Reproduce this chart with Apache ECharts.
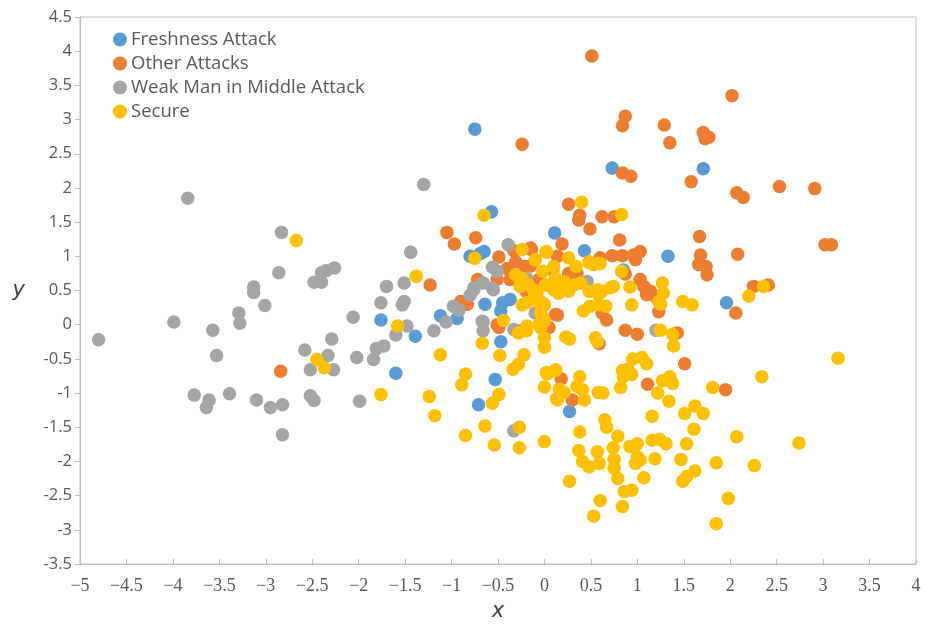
<!DOCTYPE html>
<html><head><meta charset="utf-8">
<script src="https://cdn.jsdelivr.net/npm/echarts@6/dist/echarts.min.js"></script>
<style>html,body{margin:0;padding:0;background:#fff}#c{width:933px;height:627px}</style>
</head><body><div id="c"></div>
<script>
const seriesNames = ['Freshness Attack','Other Attacks','Weak Man in Middle Attack','Secure'];
const seriesColors = ['#5B9BD5','#ED7D31','#A5A5A5','#FFC000'];

const freshness = [[-0.75,2.86],[0.73,2.29],[1.71,2.28],[-0.57,1.65],[0.11,1.34],[0.43,1.08],[1.33,1.00],[-0.80,1.00],[-0.69,1.04],[-0.65,1.07],[0.85,0.80],[-0.64,0.30],[-0.47,0.20],[-0.45,0.32],[-0.37,0.37],[-1.12,0.13],[-0.94,0.09],[-1.76,0.07],[-1.39,-0.17],[-0.47,-0.25],[-1.60,-0.71],[-0.53,-0.80],[-0.71,-1.17],[0.27,-1.27],[1.96,0.32]];

const otherAttacks = [[0.51,3.93],[-0.24,2.64],[0.87,3.05],[0.84,2.91],[1.29,2.92],[1.35,2.66],[2.02,3.35],[1.71,2.81],[1.73,2.72],[1.77,2.74],[0.84,2.22],[0.93,2.17],[1.58,2.09],[2.53,2.02],[2.91,1.99],[2.07,1.93],[2.14,1.86],[0.26,1.76],[0.38,1.60],[0.37,1.53],[0.62,1.58],[0.75,1.58],[0.49,1.40],[-1.05,1.35],[-0.97,1.18],[-0.74,1.27],[0.81,1.24],[1.67,1.29],[0.19,1.18],[-0.15,1.12],[-0.33,1.08],[-0.14,1.10],[-0.49,0.99],[-0.10,0.95],[0.14,1.00],[0.60,0.98],[0.73,1.01],[0.84,1.01],[0.96,1.02],[1.03,1.07],[0.98,0.95],[2.08,1.03],[3.02,1.17],[3.09,1.17],[1.68,1.02],[1.66,0.88],[1.74,0.85],[1.75,0.73],[2.25,0.56],[2.41,0.58],[2.06,0.17],[-1.23,0.58],[-0.40,0.82],[-0.22,0.85],[-0.31,0.92],[-0.15,0.86],[0.09,0.80],[-0.72,0.66],[-0.51,0.66],[-0.37,0.66],[-0.06,0.66],[-0.20,0.49],[-0.90,0.34],[-0.83,0.30],[-0.51,0.00],[-0.49,-0.04],[0.12,0.15],[0.05,-0.04],[0.35,0.75],[0.26,0.75],[0.87,0.74],[1.03,0.66],[1.07,0.56],[1.14,0.49],[1.10,0.44],[1.21,0.39],[1.23,0.19],[0.62,0.17],[0.67,0.07],[0.14,0.14],[0.87,-0.08],[1.00,-0.14],[1.43,-0.12],[0.59,-0.28],[1.51,-0.57],[0.18,-0.79],[0.30,-1.10],[1.11,-0.87],[1.95,-0.95],[-2.84,-0.68],[0.03,-0.02]];

const weakMitm = [[-4.80,-0.22],[-3.84,1.85],[-3.99,0.04],[-3.57,-0.08],[-3.53,-0.45],[-3.77,-1.03],[-3.61,-1.10],[-3.64,-1.21],[-3.39,-1.01],[-3.13,0.55],[-3.13,0.47],[-3.01,0.28],[-3.29,0.17],[-3.28,0.02],[-3.10,-1.10],[-2.95,-1.21],[-2.82,-1.17],[-2.82,-1.61],[-2.83,1.35],[-2.86,0.76],[-2.48,0.62],[-2.40,0.62],[-2.40,0.76],[-2.35,0.79],[-2.26,0.83],[-2.58,-0.37],[-2.52,-0.66],[-2.33,-0.45],[-2.29,-0.21],[-2.27,-0.66],[-2.52,-1.04],[-2.48,-1.11],[-2.06,0.11],[-2.02,-0.48],[-1.99,-1.12],[-1.30,2.05],[-1.44,1.06],[-1.70,0.56],[-1.51,0.61],[-1.51,0.34],[-1.53,0.29],[-1.76,0.32],[-1.48,-0.02],[-1.60,-0.15],[-1.73,-0.31],[-1.81,-0.35],[-1.84,-0.51],[-0.39,1.17],[-0.56,0.84],[-0.51,0.78],[-0.66,0.61],[-0.76,0.54],[-0.56,0.54],[-0.80,0.43],[-0.76,0.51],[-0.55,0.51],[-0.98,0.27],[-0.92,0.21],[-1.06,0.04],[-0.66,0.04],[-1.19,-0.09],[-0.66,-0.09],[-0.67,0.05],[-0.33,-0.07],[-0.26,-0.09],[-0.33,-1.55],[-0.19,0.68],[-0.10,0.17],[0.46,0.63],[1.20,-0.08]];

const secure = [[-2.67,1.23],[-2.45,-0.51],[-2.37,-0.63],[-1.38,0.71],[-1.58,-0.02],[-1.76,-1.02],[-0.65,1.60],[-0.75,0.97],[-0.24,1.10],[0.40,1.79],[0.83,1.61],[0.02,1.07],[-0.10,0.95],[0.26,0.98],[0.48,0.92],[0.58,0.90],[0.02,1.06],
[-0.31,0.73],[-0.24,0.68],[-0.26,0.56],[-0.17,0.58],[-0.12,0.51],[-0.24,0.29],[-0.08,0.46],[-0.06,0.32],[-0.06,0.00],[-0.19,-0.02],[-0.26,0.63],[-0.11,0.39],[-0.19,0.32],[-0.02,0.32],[-0.04,0.17],[0.00,0.05],[-0.04,-0.04],[0.00,-0.19],[0.00,-0.33],[0.10,0.51],[0.03,0.58],[0.14,0.63],[-0.44,0.06],[-0.28,-0.12],[-0.19,-0.09],
[0.10,0.85],[-0.02,0.78],[0.12,0.68],[0.08,0.56],[0.01,0.58],[0.34,0.85],[0.48,0.91],[0.53,0.88],[0.60,0.89],[0.21,0.63],[0.32,0.58],[0.39,0.61],[0.15,0.46],[0.26,0.49],[0.48,0.49],[0.57,0.51],[0.58,0.44],[0.62,0.49],[0.71,0.54],[0.74,0.56],[0.83,0.78],[0.92,0.55],[0.94,0.29],[1.27,0.61],[1.28,0.46],[1.23,0.34],[1.25,0.30],[1.49,0.34],[1.59,0.29],[0.42,0.20],[0.49,0.27],[0.58,0.29],[0.66,0.27],[0.00,0.29],[-0.02,0.10],
[2.36,0.56],[2.20,0.42],
[-1.12,-0.44],[-0.48,-0.45],[-0.34,-0.65],[-0.28,-0.58],[-0.22,-0.44],[-0.85,-0.72],[-0.89,-0.88],[-1.24,-1.05],[-1.18,-1.33],[-0.56,-1.15],[-0.49,-1.02],[-0.64,-1.48],[-0.85,-1.62],[-0.27,-1.50],[-0.67,-0.27],[0.00,-0.91],[0.03,-0.72],[0.12,-0.67],[0.13,-1.08],[-0.54,-1.76],[-0.27,-1.80],[0.00,-1.71],
[1.25,-0.08],[1.38,-0.14],[1.39,-0.31],[0.23,-0.18],[0.27,-0.21],[0.55,-0.19],[0.57,-0.25],[0.95,-0.50],[1.05,-0.48],[1.10,-0.57],[0.02,-0.70],[0.12,-0.66],[0.38,-0.76],[0.16,-0.94],[0.21,-0.99],[0.14,-1.10],[0.35,-0.90],[0.41,-0.95],[0.43,-1.10],[0.58,-0.99],[0.63,-1.00],[0.84,-0.67],[0.90,-0.65],[0.85,-0.76],[0.94,-0.73],[0.82,-0.92],[1.27,-0.82],[1.35,-0.76],[1.38,-0.86],[1.22,-1.00],[1.34,-1.12],[1.81,-0.92],[1.16,-1.34],[1.51,-1.30],[1.62,-1.19],[1.71,-1.30],[1.61,-1.53],[2.07,-1.64],[0.38,-1.57],[0.65,-1.39],[0.67,-1.50],[0.79,-1.63],[0.37,-1.84],[0.41,-2.00],[0.48,-2.08],[0.57,-1.86],[0.59,-2.03],[0.74,-1.80],[0.75,-1.97],[0.75,-2.10],[0.79,-2.25],[0.92,-1.78],[1.00,-1.74],[1.00,-1.93],[0.98,-2.03],[1.03,-1.98],[1.07,-2.24],[1.16,-1.69],[1.24,-1.68],[1.31,-1.74],[1.19,-1.96],[1.53,-1.74],[1.47,-1.97],[1.62,-2.14],[1.49,-2.29],[1.53,-2.22],[1.85,-2.02],[1.98,-2.54],[1.85,-2.91],[0.27,-2.29],[0.60,-2.57],[0.53,-2.80],[0.84,-2.66],[0.86,-2.44],[0.94,-2.42],
[3.16,-0.49],[2.34,-0.76],[2.74,-1.73],[2.26,-2.06]];

const xMin = -5, xMax = 4, xStep = 0.5;
const yMin = -3.5, yMax = 4.5, yStep = 0.5;
const xAxisName = 'x', yAxisName = 'y';

const allData = [freshness, otherAttacks, weakMitm, secure];
const chart = echarts.init(document.getElementById('c'), null, {renderer:'canvas'});
const axisColor = '#bfbfbf';
const labelColor = '#595959';
chart.setOption({
  animation: false,
  backgroundColor: '#ffffff',
  color: seriesColors,
  grid: {left: 80, right: 17, top: 17, bottom: 59, show: true, borderColor: axisColor, borderWidth: 1},
  legend: {
    orient: 'vertical', left: 108, top: 25, itemGap: 5,
    itemWidth: 14, itemHeight: 14, icon: 'circle',
    textStyle: {fontFamily: 'Open Sans', fontSize: 18.5, color: labelColor, padding: [0,0,0,-1]},
    data: seriesNames
  },
  xAxis: {
    type: 'value', min: xMin, max: xMax, interval: xStep,
    name: xAxisName, nameLocation: 'middle', nameGap: 37,
    nameTextStyle: {fontFamily: 'DejaVu Sans', fontStyle: 'italic', fontSize: 21, color: '#404040'},
    axisLine: {show: true, onZero: false, lineStyle: {color: axisColor}},
    axisTick: {show: true, inside: true, length: 5, lineStyle: {color: axisColor}},
    axisLabel: {margin: 13, fontFamily: 'Liberation Serif', fontSize: 18, color: labelColor,
      formatter: v => String(Math.round(v*10)/10).replace('-', '−')},
    splitLine: {show: false}
  },
  yAxis: {
    type: 'value', min: yMin, max: yMax, interval: yStep,
    name: yAxisName, nameLocation: 'middle', nameGap: 55, nameRotate: 0,
    nameTextStyle: {fontFamily: 'DejaVu Sans', fontStyle: 'italic', fontSize: 21, color: '#404040'},
    axisLine: {show: true, onZero: false, lineStyle: {color: axisColor}},
    axisTick: {show: true, inside: false, length: 5, lineStyle: {color: axisColor}},
    axisLabel: {margin: 8, fontFamily: 'Open Sans', fontSize: 16.5, color: labelColor},
    splitLine: {show: false}
  },
  series: seriesNames.map((n, i) => ({
    name: n, type: 'scatter', symbol: 'circle', symbolSize: 13.5,
    itemStyle: {color: seriesColors[i], opacity: 1},
    data: allData[i]
  }))
});
</script></body></html>
